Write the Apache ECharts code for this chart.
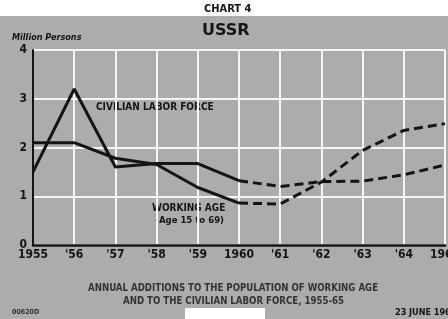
<!DOCTYPE html>
<html>
<head>
<meta charset="utf-8">
<script src="https://cdn.jsdelivr.net/npm/echarts@6/dist/echarts.min.js"></script>
<style>
  html, body { margin: 0; padding: 0; background: #fff; }
  #chart-container { width: 448px; height: 319px; }
</style>
</head>
<body>
<div id="chart-container"></div>
<script>
var dom = document.getElementById("chart-container");
var myChart = echarts.init(dom, null, { renderer: "canvas" });

// years and values (million persons)
const yearsActual = [1955, 1956, 1957, 1958, 1959, 1960];
const yearsProjected = [1960, 1961, 1962, 1963, 1964, 1965];
const laborForceActual = [1.5, 3.2, 1.6, 1.67, 1.67, 1.32];
const laborForceProjected = [1.32, 1.2, 1.3, 1.31, 1.44, 1.64];
const workingAgeActual = [2.1, 2.1, 1.78, 1.65, 1.18, 0.86];
const workingAgeProjected = [0.86, 0.84, 1.29, 1.94, 2.35, 2.49];
const yTicks = [0, 1, 2, 3, 4];

const font = "'Liberation Sans Narrow', 'DejaVu Sans Condensed', 'DejaVu Sans', sans-serif";
const ink = "#141414";

const pairs = (xs, ys) => xs.map((x, i) => [x, ys[i]]);

const solid = { color: ink, width: 3, type: "solid" };
const dashed = { color: ink, width: 3, type: [9, 5] };

var option = {
  backgroundColor: "#acacac",
  animation: false,
  grid: { left: 33, right: 3, top: 50, bottom: 74, outerBoundsMode: "none", containLabel: false },
  xAxis: {
    type: "value",
    min: 1955,
    max: 1965,
    interval: 1,
    axisLine: { show: true, lineStyle: { color: ink, width: 2.5 } },
    axisTick: { show: false },
    axisLabel: {
      color: ink,
      fontFamily: font,
      fontWeight: "bold",
      fontSize: 12,
      margin: 4,
      formatter: (v) => (v % 5 === 0 ? String(v) : "'" + String(v).slice(2))
    },
    splitLine: { show: true, lineStyle: { color: "#f4f4f4", width: 2 } }
  },
  yAxis: {
    type: "value",
    min: yTicks[0],
    max: yTicks[yTicks.length - 1],
    interval: 1,
    axisLine: { show: true, lineStyle: { color: ink, width: 2 } },
    axisTick: { show: false },
    axisLabel: {
      color: ink,
      fontFamily: font,
      fontWeight: "bold",
      fontSize: 12,
      margin: 6
    },
    splitLine: { show: true, lineStyle: { color: "#f4f4f4", width: 2 } }
  },
  graphic: [
    { type: "rect", left: 0, top: 0, z: -10, shape: { width: 448, height: 16 }, style: { fill: "#fff" } },
    { type: "rect", left: 185, top: 308, z: 10, shape: { width: 80, height: 11 }, style: { fill: "#fff" } },
    { type: "text", left: 204, top: 4, style: { text: "CHART 4", font: "bold 11px " + font, fill: ink } },
    { type: "text", left: 202, top: 23, style: { text: "USSR", font: "900 16px 'DejaVu Sans', sans-serif", fill: ink } },
    { type: "text", left: 12, top: 33, style: { text: "Million Persons", font: "italic bold 9px " + font, fill: ink } },
    { type: "text", left: 96, top: 102, style: { text: "CIVILIAN LABOR FORCE", font: "bold 10px " + font, fill: ink } },
    { type: "text", left: 152, top: 203, style: { text: "WORKING AGE", font: "bold 10px " + font, fill: ink } },
    { type: "text", left: 155, top: 216, style: { text: "(Age 15 to 69)", font: "bold 9.5px " + font, fill: ink } },
    { type: "text", left: 88, top: 283, style: { text: "ANNUAL ADDITIONS TO THE POPULATION OF WORKING AGE", font: "bold 9.6px " + font, fill: "#333" } },
    { type: "text", left: 123, top: 296, style: { text: "AND TO THE CIVILIAN LABOR FORCE, 1955-65", font: "bold 9.6px " + font, fill: "#333" } },
    { type: "text", left: 12, top: 309, style: { text: "00620D", font: "bold 7px " + font, fill: "#333" } },
    { type: "text", left: 395, top: 308, style: { text: "23 JUNE 1961", font: "bold 9px " + font, fill: ink } }
  ],
  series: [
    { name: "Civilian labor force", type: "line", symbol: "none", lineStyle: solid, data: pairs(yearsActual, laborForceActual) },
    { name: "Civilian labor force (projected)", type: "line", symbol: "none", lineStyle: dashed, data: pairs(yearsProjected, laborForceProjected) },
    { name: "Working age", type: "line", symbol: "none", lineStyle: solid, data: pairs(yearsActual, workingAgeActual) },
    { name: "Working age (projected)", type: "line", symbol: "none", lineStyle: dashed, data: pairs(yearsProjected, workingAgeProjected) }
  ]
};

myChart.setOption(option);
window.addEventListener("resize", myChart.resize);
</script>
</body>
</html>
